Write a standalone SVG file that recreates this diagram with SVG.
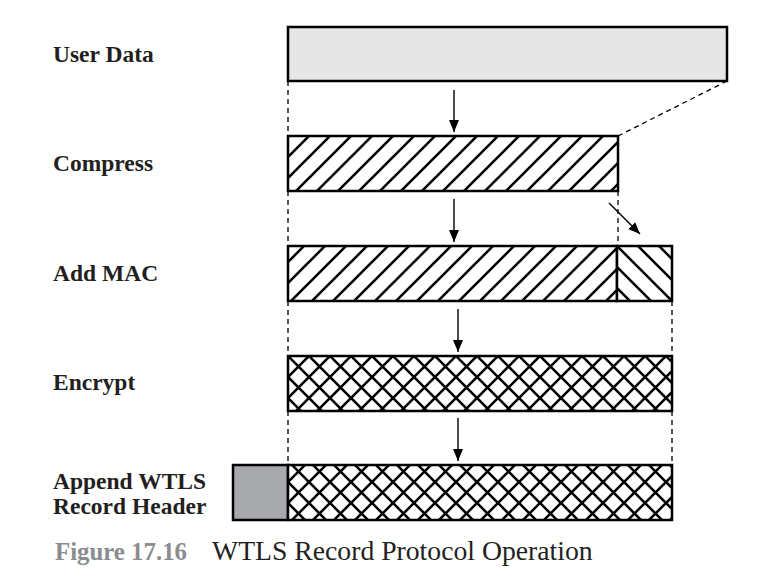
<svg xmlns="http://www.w3.org/2000/svg" width="768" height="582" viewBox="0 0 768 582">
  <style>
    .label { font-family: "Liberation Serif", "Times New Roman", serif; font-weight: bold; font-size: 23.5px; fill: #231f20; }
    .box { stroke: #000; stroke-width: 2.5; }
    .dash { stroke: #000; stroke-width: 1.3; stroke-dasharray: 5 4; fill: none; }
    .arrow { stroke: #000; stroke-width: 1.4; fill: none; marker-end: url(#head); }
  </style>
  <defs>
    <marker id="head" viewBox="0 0 12 10" refX="12" refY="5" markerWidth="12" markerHeight="10" markerUnits="userSpaceOnUse" orient="auto">
      <path d="M0,0 L12,5 L0,10 Z" fill="#000"/>
    </marker>
    <!-- forward-slash hatch -->
    <pattern id="fwd" patternUnits="userSpaceOnUse" width="21" height="21" x="288" y="136">
      <rect width="21" height="21" fill="#fff"/>
      <path d="M-2,23 L23,-2 M-2,2 L2,-2 M19,23 L23,19" stroke="#000" stroke-width="2.6"/>
    </pattern>
    <!-- back-slash hatch -->
    <pattern id="back" patternUnits="userSpaceOnUse" width="21" height="21" x="617" y="246">
      <rect width="21" height="21" fill="#fff"/>
      <path d="M-2,-2 L23,23 M19,-2 L23,2 M-2,19 L2,23" stroke="#000" stroke-width="2.6"/>
    </pattern>
    <!-- cross hatch -->
    <pattern id="cross" patternUnits="userSpaceOnUse" width="21" height="21" x="288" y="356">
      <rect width="21" height="21" fill="#fff"/>
      <path d="M-2,23 L23,-2 M-2,2 L2,-2 M19,23 L23,19 M-2,-2 L23,23 M19,-2 L23,2 M-2,19 L2,23" stroke="#000" stroke-width="2.6"/>
    </pattern>
  </defs>

  <g id="connectors">
    <!-- guide lines between stages -->
    <line class="dash" x1="288" y1="81" x2="288" y2="136"/>
    <line class="dash" x1="727" y1="81" x2="618" y2="136"/>
    <line class="dash" x1="288" y1="191" x2="288" y2="246"/>
    <line class="dash" x1="618" y1="191" x2="618" y2="246"/>
    <line class="dash" x1="288" y1="301" x2="288" y2="356"/>
    <line class="dash" x1="672" y1="301" x2="672" y2="356"/>
    <line class="dash" x1="288" y1="411" x2="288" y2="465"/>
    <line class="dash" x1="672" y1="411" x2="672" y2="465"/>
    <!-- process arrows -->
    <line class="arrow" x1="454" y1="90" x2="454" y2="132"/>
    <line class="arrow" x1="454" y1="199" x2="454" y2="242"/>
    <line class="arrow" x1="458" y1="309" x2="458" y2="352"/>
    <line class="arrow" x1="458" y1="418" x2="458" y2="461"/>
    <line class="arrow" x1="609" y1="203" x2="640" y2="234"/>
  </g>

  <g id="user-data">
    <text class="label" x="53" y="62">User Data</text>
    <rect class="box" x="288" y="27" width="439" height="54" fill="#e6e6e7" stroke-width="2"/>
  </g>

  <g id="compress">
    <text class="label" x="53" y="171">Compress</text>
    <rect class="box" x="288" y="136" width="330" height="55" fill="url(#fwd)"/>
  </g>

  <g id="add-mac">
    <text class="label" x="53" y="281">Add MAC</text>
    <rect class="box" x="288" y="246" width="329" height="55" fill="url(#fwd)"/>
    <rect class="box" x="617" y="246" width="55" height="55" fill="url(#back)"/>
  </g>

  <g id="encrypt">
    <text class="label" x="53" y="390">Encrypt</text>
    <rect class="box" x="288" y="356" width="384" height="55" fill="url(#cross)"/>
  </g>

  <g id="append-header">
    <text class="label" x="53" y="489">Append WTLS</text>
    <text class="label" x="53" y="514">Record Header</text>
    <rect class="box" x="233" y="465" width="55" height="55" fill="#a7a9ac"/>
    <rect class="box" x="288" y="465" width="384" height="55" fill="url(#cross)"/>
  </g>

  <g id="caption">
    <text x="55" y="560" font-family="Liberation Serif, Times New Roman, serif" font-size="25" font-weight="bold" fill="#8a8c8e" textLength="132" lengthAdjust="spacingAndGlyphs">Figure 17.16</text>
    <text x="212" y="560" font-family="Liberation Serif, Times New Roman, serif" font-size="27.7" fill="#231f20">WTLS Record Protocol Operation</text>
  </g>
</svg>
